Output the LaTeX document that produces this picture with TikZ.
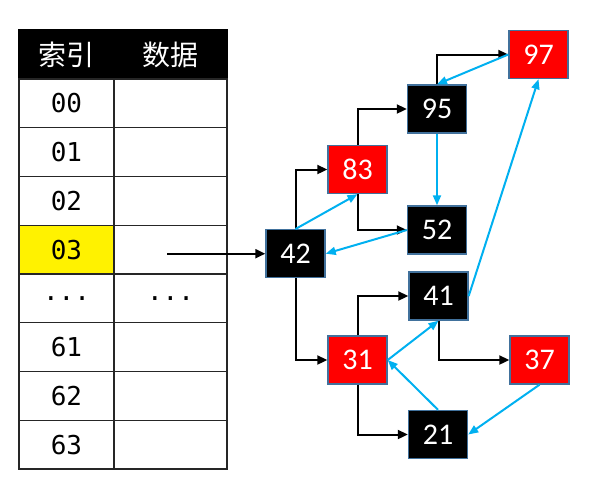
\documentclass[tikz,border=0pt]{standalone}
\usepackage{fontspec}
\setmainfont{Carlito}
\newfontfamily\cjkfont{Noto Sans CJK SC}
\newfontfamily\monofont{DejaVu Sans Mono}
\usetikzlibrary{arrows.meta}
\definecolor{nodeborder}{HTML}{41719C}
\definecolor{linkblue}{HTML}{00B0F0}
\begin{document}
\begin{tikzpicture}[x=1pt,y=-1pt,
  hnode/.style={draw=nodeborder, line width=1.4pt, minimum width=59pt, minimum height=48pt, inner sep=0pt, text=white, font=\fontsize{30}{32}\selectfont},
  blk/.style={hnode, fill=black},
  rd/.style={hnode, fill=red},
  tree/.style={black, line width=2pt, -{Triangle[length=10pt,width=9pt]}},
  link/.style={linkblue, line width=2pt, -{Triangle[length=10pt,width=8pt]}},
  cell/.style={draw=black!85, line width=1.4pt, minimum height=48.75pt, inner sep=0pt, font=\monofont\fontsize{26}{28}\selectfont},
  icell/.style={cell, minimum width=95pt},
  dcell/.style={cell, minimum width=113pt},
  head/.style={draw=black, fill=black, line width=1.4pt, minimum height=49pt, inner sep=0pt, text=white, font=\cjkfont\fontsize{28}{30}\selectfont}
]
\useasboundingbox (0,0) rectangle (593,480);
% header
\node[head, minimum width=95pt] (hidx) at (66.5,54.5) {索引};
\node[head, minimum width=113pt] (hdat) at (170.5,54.5) {数据};
% rows
\node[icell] (i0) at (66.5,103.4) {00};
\node[dcell] (d0) at (170.5,103.4) {};
\node[icell] (i1) at (66.5,152.1) {01};
\node[dcell] (d1) at (170.5,152.1) {};
\node[icell] (i2) at (66.5,200.9) {02};
\node[dcell] (d2) at (170.5,200.9) {};
\node[icell, fill=yellow] (i3) at (66.5,249.6) {03};
\node[dcell] (d3) at (170.5,249.6) {};
\node[icell] (i4) at (66.5,298.4) {...};
\node[dcell] (d4) at (170.5,298.4) {...};
\node[icell] (i5) at (66.5,347.1) {61};
\node[dcell] (d5) at (170.5,347.1) {};
\node[icell] (i6) at (66.5,395.9) {62};
\node[dcell] (d6) at (170.5,395.9) {};
\node[icell] (i7) at (66.5,444.6) {63};
\node[dcell] (d7) at (170.5,444.6) {};
% tree nodes
\node[blk] (n42) at (295.5,253.7) {42};
\node[rd]  (n83) at (357.5,169.5) {83};
\node[blk] (n95) at (437,109) {95};
\node[blk] (n52) at (437,230) {52};
\node[rd]  (n97) at (538.5,54.5) {97};
\node[blk] (n41) at (438.5,296) {41};
\node[rd]  (n31) at (357.5,360) {31};
\node[rd]  (n37) at (539.5,360) {37};
\node[blk] (n21) at (438,434.5) {21};
% pointer
\coordinate (ptr) at (167,253.7);
\draw[tree] (ptr) -- (n42.west);
% tree edges
\draw[tree] (n42.north) |- (n83.west);
\draw[tree] (n83.north) |- (n95.west);
\draw[tree] (n83.south) |- (n52.west);
\draw[tree] (n95.north) |- (n97.west);
\draw[tree] (n42.south) |- (n31.west);
\draw[tree] (n31.north) |- (n41.west);
\draw[tree] (n31.south) |- (n21.west);
\draw[tree] (n41.south) |- (n37.west);
% links
\draw[link] (n42.north) -- (n83.south);
\draw[link] (n52.west) -- (n42.east);
\draw[link] (n95.south) -- (n52.north);
\draw[link] (n97.west) -- (n95.north);
\draw[link] (n41.east) -- (n97.south);
\draw[link] (n31.east) -- (n41.south);
\draw[link] (n21.north) -- (n31.east);
\draw[link] (n37.south) -- (n21.east);
\end{tikzpicture}
\end{document}
